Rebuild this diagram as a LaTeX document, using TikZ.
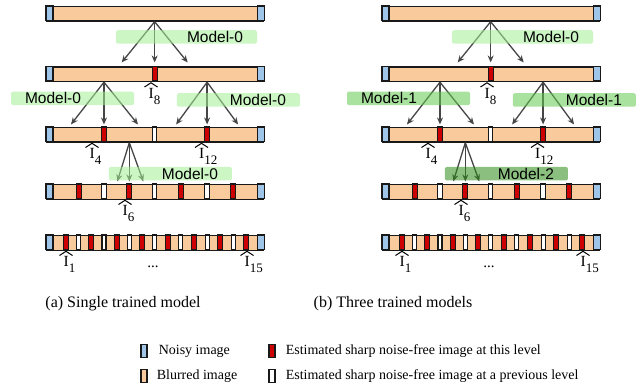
\documentclass[tikz,border=0pt]{standalone}
\usepackage{fontspec}
\setmainfont{Liberation Serif}
\newfontfamily\modelfont{Liberation Sans}
\usetikzlibrary{arrows.meta,positioning}

\definecolor{noisyblue}{HTML}{9FC5E8}
\definecolor{blurpeach}{HTML}{F9CB9C}
\definecolor{sharpred}{HTML}{CC0000}
\definecolor{arrowgray}{HTML}{454545}
\definecolor{mzero}{RGB}{162,239,148}
\definecolor{mone}{RGB}{97,202,79}
\definecolor{mtwo}{RGB}{44,139,22}

% 带下标的估计图像标签
\newcommand{\Ihat}[1]{I\raisebox{-6pt}{\fontsize{13}{13}\selectfont #1}}

\begin{document}
\begin{tikzpicture}
        % 样式: 图像条、单元格、箭头、模型框
        [x=1pt,y=-1pt,
        declare function={posx(\k)=\k<=8 ? 53.3+12.67*\k : 154.7+13.1*(\k-8);},
        barNode/.style={draw=black!90, line width=1.2pt, fill=blurpeach, minimum width=217pt, minimum height=14.5pt, inner sep=0pt, anchor=north west},
        noisyCell/.style={draw=black!90, line width=1.2pt, fill=noisyblue},
        redCell/.style={draw=black!90, line width=1.1pt, fill=sharpred, minimum width=5pt, minimum height=14.5pt, inner sep=0pt},
        whiteCell/.style={redCell, fill=white, minimum width=4.5pt},
        arr/.style={-{Stealth[length=7pt,width=6pt]}, draw=arrowgray, line width=1.3pt},
        hatLine/.style={line width=1pt},
        Ilabel/.style={inner sep=0pt, anchor=north west, font=\fontsize{15.5}{15.5}\selectfont},
        modelBox/.style={rounded corners=2pt, fill opacity=0.55, text opacity=1, inner ysep=0pt, inner xsep=14pt, minimum height=13.5pt, font=\modelfont\fontsize{15.5}{15.5}\selectfont},
        legendBox/.style={draw=black!90, line width=1.2pt, minimum width=6pt, minimum height=12.5pt, inner sep=0pt},
        legendText/.style={inner sep=0pt, font=\fontsize{14}{14}\selectfont}]

        \useasboundingbox (0,0) rectangle (640,385);

        % 两幅子图: (a) 单个模型, (b) 三个模型
        \foreach \p/\px/\mb/\mc/\cb/\cc in {a/0/0/0/mzero/mzero, b/336/1/2/mone/mtwo}{
        \begin{scope}[xshift=\px]
        % 添加五层图像条
        \foreach \r/\yt in {1/6, 2/66.5, 3/127, 4/184, 5/235}{
            \node[barNode] (\p-bar\r) at (46,\yt) {};
            \draw[noisyCell] (\p-bar\r.north west) rectangle ++(7,14.5);
            \draw[noisyCell] (\p-bar\r.north east) rectangle ++(-7,14.5);
        }

        % 本层估计(红)与前层估计(白)
        \node[redCell] (\p-c2-8) at ({posx(8)},73.75) {};
        \foreach \i in {4,12}
            \node[redCell] (\p-c3-\i) at ({posx(\i)},134.25) {};
        \node[whiteCell] (\p-c3-8) at ({posx(8)},134.25) {};
        \foreach \i in {2,6,10,14}
            \node[redCell] (\p-c4-\i) at ({posx(\i)},191.25) {};
        \foreach \i in {4,8,12}
            \node[whiteCell] (\p-c4-\i) at ({posx(\i)},191.25) {};
        \foreach \i in {1,3,...,15}
            \node[redCell] (\p-c5-\i) at ({posx(\i)},242.25) {};
        \foreach \i in {2,4,...,14}
            \node[whiteCell, minimum width=4pt] (\p-c5-\i) at ({posx(\i)},242.25) {};

        % 层与层之间的箭头
        \foreach \g/\src/\dst/\dy/\dl/\dr in {1/bar1/c2-8/3.5/33/33, 2/bar2/c3-4/2/33/34, 3/bar2/c3-12/2/31/31, 4/bar3/c4-6/2/12/14}{
            \coordinate (\p-s\g) at (\p-\dst |- \p-\src.south);
            \foreach \k/\dx in {1/-\dl, 2/0, 3/\dr}{
                \coordinate (\p-t\g\k) at ([xshift=\dx, yshift=\dy]\p-\dst.north);
                \draw[arr] (\p-s\g) -- (\p-t\g\k);
            }
        }

        % 模型框(半透明, 盖在箭头上)
        \node[modelBox, fill=mzero, text width=113pt, align=right] (\p-m1) at (186.5,37) {Model-0};
        \node[modelBox, fill=\cb, text width=95pt, align=left] (\p-m2) at (72.5,98.4) {Model-\mb};
        \node[modelBox, fill=\cb, text width=95pt, align=right] (\p-m3) at (238.4,100) {Model-\mb};
        \node[modelBox, fill=\cc, text width=95pt, align=right] (\p-m4) at (170.4,173.7) {Model-\mc};

        % 估计图像标签
        \foreach \yb/\i/\hx in {81/8/151, 141.5/4/92, 141.5/12/201.5, 198.5/6/125, 249.5/1/66, 249.5/15/247}{
            \draw[hatLine] (\hx-6.5,\yb+6) -- (\hx,\yb+1.8) -- (\hx+6.5,\yb+6);
            \node[Ilabel] (\p-I\i) at (\hx-2.6,\yb+7) {\Ihat{\i}};
        }

        %省略号
        \node[font=\fontsize{15}{15}\selectfont] (\p-dots) at (153,267) {...};
        \end{scope}
        }

        % 子图标题
        \node[font=\fontsize{16}{16}\selectfont] (capa) at (123,304) {(a) Single trained model};
        \node[font=\fontsize{16}{16}\selectfont] (capb) at (393,304) {(b) Three trained models};

        % 图例
        \node[legendBox, fill=noisyblue] (lg1) at (144,351) {};
        \node[legendText, right=11pt of lg1] (lt1) {Noisy image};
        \node[legendBox, fill=blurpeach] (lg2) at (144,376) {};
        \node[legendText, right=9pt of lg2] (lt2) {Blurred image};
        \node[legendBox, fill=sharpred] (lg3) at (272,351) {};
        \node[legendText, right=10pt of lg3] (lt3) {Estimated sharp noise-free image at this level};
        \node[legendBox, fill=white] (lg4) at (272,376) {};
        \node[legendText, right=10pt of lg4] (lt4) {Estimated sharp noise-free image at a previous level};
\end{tikzpicture}
\end{document}
